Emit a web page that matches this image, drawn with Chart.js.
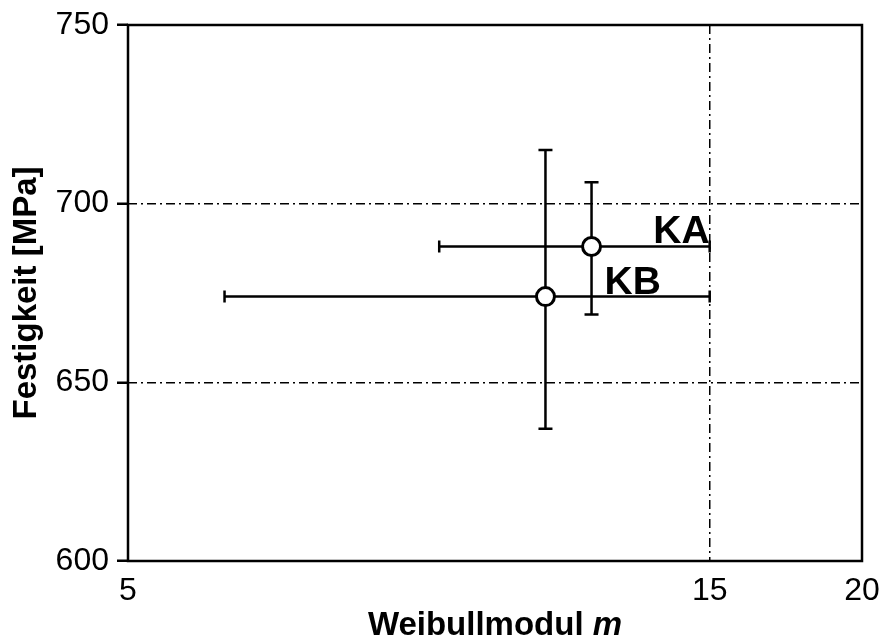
<!DOCTYPE html>
<html>
<head>
<meta charset="utf-8">
<script src="https://cdn.jsdelivr.net/npm/chart.js@4"></script>
<style>
  html, body { margin: 0; padding: 0; background: #fff; }
  #wrap { width: 883px; height: 642px; }
</style>
</head>
<body>
<div id="wrap"><canvas id="chart" width="883" height="642"></canvas></div>
<script>
// samples
const names = ["KA", "KB"];
// Weibull modulus m with its lower / upper bound
const mVal = [12.0, 11.0];
const mLow = [9.0, 6.0];
const mHigh = [15.0, 15.0];
// strength [MPa] with its lower / upper bound
const sigVal = [688, 674];
const sigLow = [669, 637];
const sigHigh = [706, 715];

const xTicks = [5, 15, 20];
const yTicks = [600, 650, 700, 750];
const xGridAt = [15];
const yGridAt = [650, 700];

const FONT = "'Liberation Sans', Arial, Helvetica, sans-serif";

const points = mVal.map((v, i) => ({ x: v, y: sigVal[i] }));

// error bars, frame, sample labels and x title
const extras = {
    id: "extras",
    beforeDatasetsDraw(chart) {
        const ctx = chart.ctx;
        const xs = chart.scales.x, ys = chart.scales.y;
        ctx.save();
        ctx.strokeStyle = "#000";
        ctx.lineWidth = 2.5;
        for (let i = 0; i < mVal.length; i++) {
            const px = xs.getPixelForValue(mVal[i]);
            const py = ys.getPixelForValue(sigVal[i]);
            const x1 = xs.getPixelForValue(mLow[i]);
            const x2 = xs.getPixelForValue(mHigh[i]);
            const y1 = ys.getPixelForValue(sigLow[i]);
            const y2 = ys.getPixelForValue(sigHigh[i]);
            ctx.beginPath();
            ctx.moveTo(x1, py); ctx.lineTo(x2, py);
            ctx.moveTo(x1, py - 6); ctx.lineTo(x1, py + 6);
            ctx.moveTo(x2, py - 6); ctx.lineTo(x2, py + 6);
            ctx.moveTo(px, y1); ctx.lineTo(px, y2);
            ctx.moveTo(px - 7, y1); ctx.lineTo(px + 7, y1);
            ctx.moveTo(px - 7, y2); ctx.lineTo(px + 7, y2);
            ctx.stroke();
        }
        ctx.restore();
    },
    afterDraw(chart) {
        const ctx = chart.ctx;
        const a = chart.chartArea;
        const xs = chart.scales.x, ys = chart.scales.y;
        ctx.save();
        ctx.strokeStyle = "#000";
        ctx.lineWidth = 2.5;
        ctx.strokeRect(a.left, a.top, a.right - a.left, a.bottom - a.top);

        // sample labels
        ctx.fillStyle = "#000";
        ctx.font = "bold 39px " + FONT;
        ctx.textBaseline = "alphabetic";
        ctx.textAlign = "right";
        ctx.fillText(names[0], xs.getPixelForValue(mHigh[0]), ys.getPixelForValue(sigVal[0]) - 4);
        ctx.textAlign = "left";
        ctx.fillText(names[1], xs.getPixelForValue(mVal[0]) + 13, ys.getPixelForValue(sigVal[1]) - 3);

        // x axis title with italic m
        const t1 = "Weibullmodul ", t2 = "m";
        ctx.font = "bold 33px " + FONT;
        const w1 = ctx.measureText(t1).width;
        ctx.font = "italic bold 33px " + FONT;
        const w2 = ctx.measureText(t2).width;
        let x0 = (a.left + a.right) / 2 - (w1 + w2) / 2;
        const yb = chart.height - 7;
        ctx.font = "bold 33px " + FONT;
        ctx.fillText(t1, x0, yb);
        ctx.font = "italic bold 33px " + FONT;
        ctx.fillText(t2, x0 + w1, yb);
        ctx.restore();
    }
};

new Chart(document.getElementById("chart"), {
    type: "scatter",
    data: {
        datasets: [{
            data: points,
            pointRadius: 9,
            pointHoverRadius: 9,
            pointBackgroundColor: "#fff",
            pointBorderColor: "#000",
            pointBorderWidth: 3
        }]
    },
    options: {
        responsive: false,
        animation: false,
        layout: { padding: { left: 0, top: 25, right: 21, bottom: 0 } },
        plugins: { legend: { display: false }, tooltip: { enabled: false } },
        scales: {
            x: {
                type: "logarithmic",
                min: 5,
                max: 20,
                afterBuildTicks: s => { s.ticks = xTicks.map(v => ({ value: v })); },
                afterFit: s => { s.height = 81; s.paddingRight = 0; s.paddingLeft = 0; },
                ticks: {
                    color: "#000",
                    font: { family: FONT, size: 32 },
                    padding: 11,
                    maxRotation: 0,
                    autoSkip: false,
                    callback: v => String(v)
                },
                grid: {
                    drawTicks: false,
                    lineWidth: 1.5,
                    color: c => (c.tick && xGridAt.includes(c.tick.value)) ? "#000" : "rgba(0,0,0,0)"
                },
                border: { display: false, dash: [9, 4, 2, 4] },
                title: { display: false }
            },
            y: {
                min: 600,
                max: 750,
                afterBuildTicks: s => { s.ticks = yTicks.map(v => ({ value: v })); },
                afterFit: s => { s.width = 128; s.paddingTop = 0; s.paddingBottom = 0; },
                ticks: {
                    color: "#000",
                    font: { family: FONT, size: 32 },
                    padding: 8,
                    callback: v => String(v)
                },
                grid: {
                    drawTicks: true,
                    tickLength: 11,
                    tickColor: "#000",
                    tickWidth: 2.5,
                    tickBorderDash: [],
                    lineWidth: 1.5,
                    color: c => (c.tick && yGridAt.includes(c.tick.value)) ? "#000" : "rgba(0,0,0,0)"
                },
                border: { display: false, dash: [9, 4, 2, 4] },
                title: {
                    display: true,
                    text: "Festigkeit [MPa]",
                    color: "#000",
                    font: { family: FONT, size: 33, weight: "bold", lineHeight: 1.2 },
                    padding: { top: 7, bottom: 0 }
                }
            }
        }
    },
    plugins: [extras]
});
</script>
</body>
</html>
